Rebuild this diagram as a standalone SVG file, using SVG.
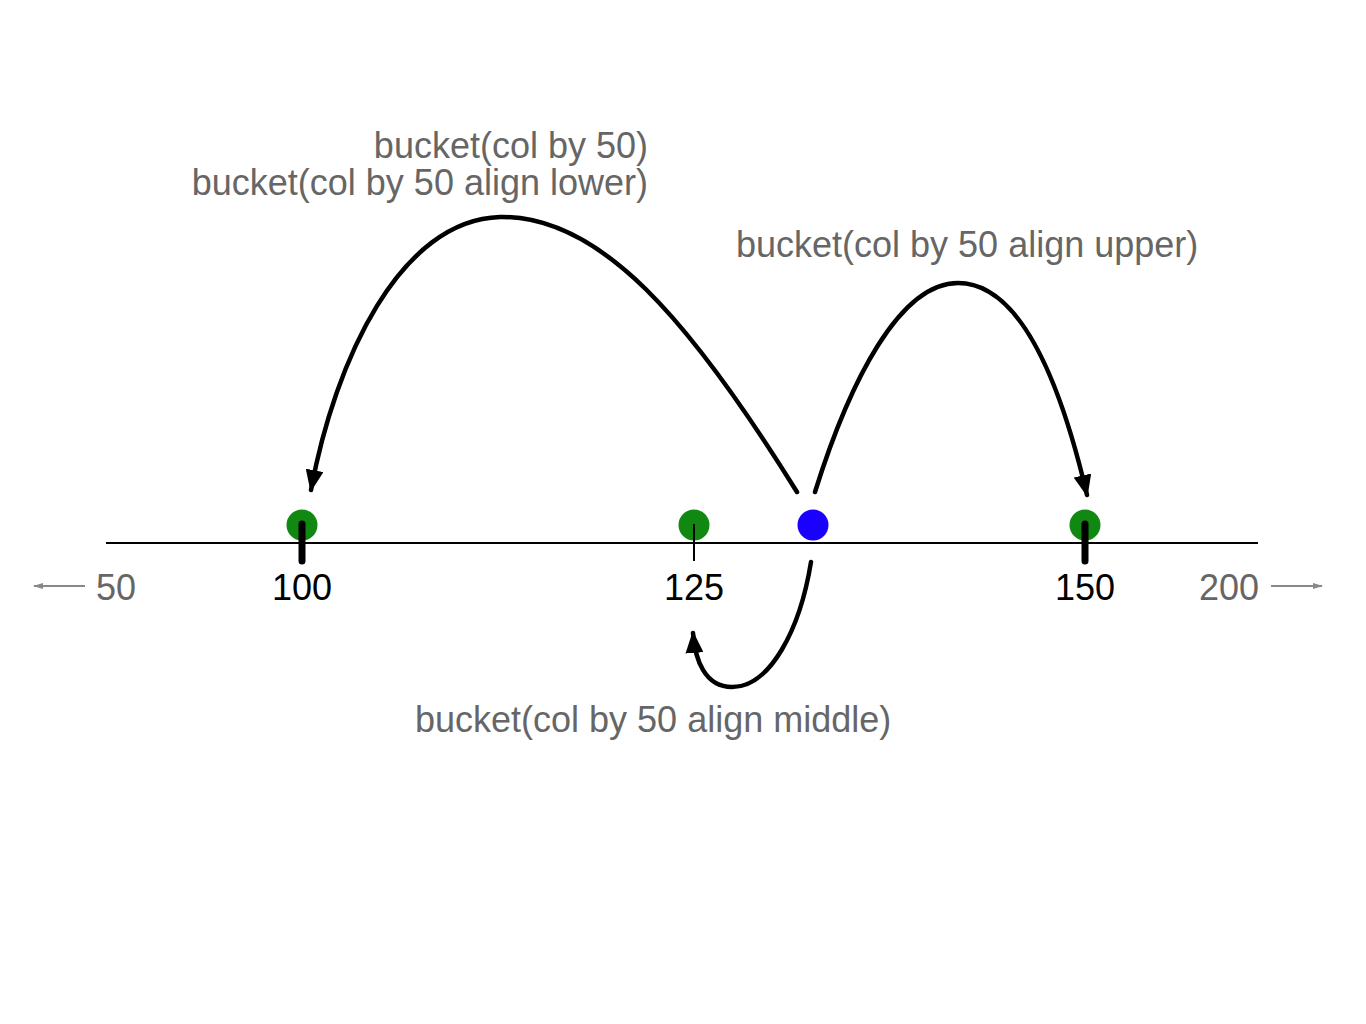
<svg xmlns="http://www.w3.org/2000/svg" width="1366" height="1024" viewBox="0 0 1366 1024">
<style>
text{font-family:"Liberation Sans",Arial,sans-serif;font-size:36px}
.lbl{fill:#666}
.num{fill:#000;text-anchor:middle}
.arc{fill:none;stroke:#000;stroke-width:4.5;stroke-linecap:round}
.tick{stroke:#000;stroke-width:7;stroke-linecap:round}
.dir{stroke:#888;stroke-width:2}
</style>
<defs>
<marker id="ah" viewBox="0 0 22 18" refX="20" refY="9" markerWidth="22" markerHeight="18" markerUnits="userSpaceOnUse" orient="auto">
<path d="M0,0 L22,9 L0,18 Z" fill="#000"/>
</marker>
<marker id="sa" viewBox="0 0 10 8" refX="9" refY="4" markerWidth="10" markerHeight="8" markerUnits="userSpaceOnUse" orient="auto">
<path d="M0,1 L10,4 L0,7 Z" fill="#888"/>
</marker>
</defs>
<rect width="1366" height="1024" fill="#fff"/>
<g id="axis">
<line x1="106" y1="543" x2="1258" y2="543" stroke="#000" stroke-width="2"/>
<line class="dir" x1="85" y1="586" x2="34" y2="586" marker-end="url(#sa)"/>
<line class="dir" x1="1271" y1="586" x2="1322" y2="586" marker-end="url(#sa)"/>
<text class="lbl" x="96" y="600">50</text>
<text class="lbl" x="1259" y="600" text-anchor="end">200</text>
</g>
<g id="node-100">
<circle cx="302" cy="525" r="15.5" fill="#118811"/>
<line class="tick" x1="302" y1="524" x2="302" y2="561"/>
<text class="num" x="302" y="600">100</text>
</g>
<g id="node-125">
<circle cx="694" cy="525" r="15.5" fill="#118811"/>
<line x1="694" y1="524" x2="694" y2="561" stroke="#000" stroke-width="2"/>
<text class="num" x="694" y="600">125</text>
</g>
<g id="node-150">
<circle cx="1085" cy="525" r="15.5" fill="#118811"/>
<line class="tick" x1="1085" y1="524" x2="1085" y2="561"/>
<text class="num" x="1085" y="600">150</text>
</g>
<g id="node-value">
<circle cx="813" cy="525" r="15.5" fill="#1a00ff"/>
</g>
<g id="connectors">
<path class="arc" d="M797,492 C 690,320 600,215 500,217 C 400,220 335,360 311,490" marker-end="url(#ah)"/>
<path class="arc" d="M815,492 C 850,380 900,283 958,283 C 1020,283 1060,380 1087,495" marker-end="url(#ah)"/>
<path class="arc" d="M811,562 C 800,630 770,687 732,687 C 705,687 695,660 693,633" marker-end="url(#ah)"/>
</g>
<g id="labels">
<text class="lbl" x="648" y="158" text-anchor="end">bucket(col by 50)</text>
<text class="lbl" x="648" y="195" text-anchor="end">bucket(col by 50 align lower)</text>
<text class="lbl" x="736" y="257">bucket(col by 50 align upper)</text>
<text class="lbl" x="415" y="732">bucket(col by 50 align middle)</text>
</g>
</svg>
